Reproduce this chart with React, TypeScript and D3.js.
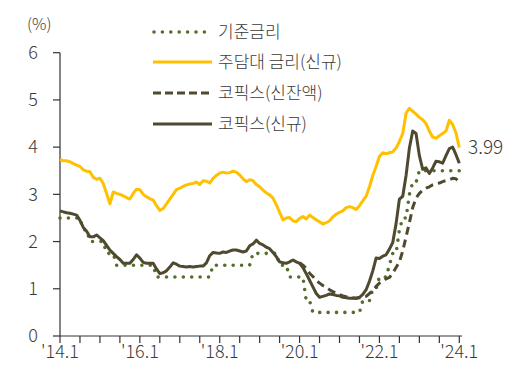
import React from 'react';
import * as d3 from 'd3';

// Monthly data, Jan 2014 (index 0) .. Jan 2024 (index 120)
const baseRate: number[] = [
  2.5, 2.5, 2.5, 2.5, 2.5, 2.5, 2.5, 2.25, 2.25, 2, 2, 2,
  2, 2, 1.75, 1.75, 1.75, 1.5, 1.5, 1.5, 1.5, 1.5, 1.5, 1.5,
  1.5, 1.5, 1.5, 1.5, 1.5, 1.25, 1.25, 1.25, 1.25, 1.25, 1.25, 1.25,
  1.25, 1.25, 1.25, 1.25, 1.25, 1.25, 1.25, 1.25, 1.25, 1.25, 1.5, 1.5,
  1.5, 1.5, 1.5, 1.5, 1.5, 1.5, 1.5, 1.5, 1.5, 1.5, 1.75, 1.75,
  1.75, 1.75, 1.75, 1.75, 1.75, 1.75, 1.5, 1.5, 1.5, 1.25, 1.25, 1.25,
  1.25, 1.25, 0.75, 0.75, 0.5, 0.5, 0.5, 0.5, 0.5, 0.5, 0.5, 0.5,
  0.5, 0.5, 0.5, 0.5, 0.5, 0.5, 0.5, 0.75, 0.75, 0.75, 1, 1,
  1.25, 1.25, 1.25, 1.5, 1.75, 1.75, 2.25, 2.5, 2.5, 3, 3.25, 3.25,
  3.5, 3.5, 3.5, 3.5, 3.5, 3.5, 3.5, 3.5, 3.5, 3.5, 3.5, 3.5,
  3.5,
];

const mortgageRate: number[] = [
  3.74, 3.71, 3.71, 3.69, 3.65, 3.62, 3.59, 3.52, 3.49, 3.48, 3.36, 3.32,
  3.34, 3.23, 3.02, 2.8, 3.05, 3.02, 3.0, 2.97, 2.93, 2.9, 3.02, 3.11,
  3.1, 3.0, 2.95, 2.91, 2.88, 2.76, 2.66, 2.7, 2.8, 2.9, 3.0, 3.1,
  3.13, 3.17, 3.2, 3.22, 3.23, 3.26, 3.21, 3.29, 3.28, 3.24, 3.34, 3.4,
  3.45, 3.47, 3.45, 3.46, 3.49, 3.47, 3.41, 3.33, 3.27, 3.31, 3.29, 3.21,
  3.16, 3.09, 3.03, 2.99, 2.92, 2.78, 2.62, 2.46, 2.5, 2.51, 2.44, 2.42,
  2.49, 2.53, 2.48, 2.56, 2.51, 2.46, 2.42, 2.37, 2.4, 2.44, 2.52, 2.58,
  2.62, 2.65, 2.72, 2.74, 2.72, 2.68, 2.76, 2.86, 2.96, 3.16, 3.4, 3.59,
  3.8, 3.88, 3.86, 3.88, 3.9, 3.98, 4.12, 4.29, 4.72, 4.82, 4.76, 4.7,
  4.63, 4.58, 4.5, 4.34, 4.21, 4.19, 4.24, 4.29, 4.34, 4.57, 4.48, 4.3,
  3.99,
];

const cofixBalance: (number | null)[] = [
  null, null, null, null, null, null, null, null, null, null, null, null,
  null, null, null, null, null, null, null, null, null, null, null, null,
  null, null, null, null, null, null, null, null, null, null, null, null,
  null, null, null, null, null, null, null, null, null, null, null, null,
  null, null, null, null, null, null, null, null, null, null, null, null,
  null, null, null, null, null, null, null, null, null, null, null, null,
  1.55, 1.5, 1.43, 1.33, 1.26, 1.18, 1.12, 1.07, 1.03, 0.98, 0.94, 0.91,
  0.88, 0.85, 0.83, 0.82, 0.81, 0.8, 0.81, 0.82, 0.84, 0.9, 0.97, 1.05,
  1.12, 1.16, 1.21, 1.24, 1.33, 1.45, 1.57, 1.8, 2.1, 2.4, 2.72, 2.92,
  3.02, 3.09, 3.13, 3.16, 3.2, 3.22, 3.24, 3.27, 3.29, 3.31, 3.34, 3.33,
  3.27,
];

const cofixNew: number[] = [
  2.65, 2.63, 2.61, 2.6, 2.58, 2.56, 2.45, 2.3, 2.22, 2.1, 2.1, 2.14,
  2.08, 2.02, 1.92, 1.82, 1.75, 1.68, 1.62, 1.54, 1.54, 1.54, 1.62, 1.72,
  1.65, 1.56, 1.54, 1.54, 1.54, 1.42, 1.32, 1.34, 1.38, 1.46, 1.55, 1.52,
  1.48, 1.47, 1.46, 1.47, 1.46, 1.47, 1.48, 1.48, 1.55, 1.7, 1.77, 1.76,
  1.75, 1.78, 1.77, 1.8, 1.82, 1.82, 1.8, 1.78, 1.8, 1.91, 1.95, 2.03,
  1.96, 1.93, 1.88, 1.85, 1.77, 1.68, 1.57, 1.55, 1.54, 1.57, 1.61, 1.57,
  1.54, 1.45, 1.32, 1.18, 1.04, 0.9, 0.82, 0.84, 0.86, 0.89, 0.88, 0.86,
  0.85, 0.82, 0.81, 0.8, 0.8, 0.8, 0.82, 0.88, 0.98, 1.16, 1.38, 1.65,
  1.64, 1.69, 1.72, 1.84, 1.98, 2.38, 2.9, 2.96, 3.4, 3.98, 4.34, 4.29,
  3.82, 3.53, 3.56, 3.44, 3.56, 3.7, 3.69, 3.66, 3.82, 3.97, 4.0, 3.84,
  3.66,
];

const yTicks: number[] = [0, 1, 2, 3, 4, 5, 6];
const xLabelIdx: number[] = [0, 24, 48, 72, 96, 120];
const xLabels: string[] = ["'14.1", "'16.1", "'18.1", "'20.1", "'22.1", "'24.1"];
const xTickIdx: number[] = [0, 6, 12, 18, 24, 30, 36, 42, 48, 54, 60, 66, 72, 78, 84, 90, 96, 102, 108, 114, 120];
const legendNames: string[] = ['기준금리', '주담대 금리(신규)', '코픽스(신잔액)', '코픽스(신규)'];
const endLabel = '3.99';

const FONT = "'Noto Sans CJK KR', 'Noto Sans', sans-serif";
const YELLOW = '#FFC000';
const DARK = '#4f4a2f';
const GREEN = '#546e2c';
const TEXT = '#3a3a3a';

export default function App() {
  const W = 525, H = 380;
  const x = d3.scaleLinear().domain([0, 120]).range([60, 459.3]);
  const y = d3.scaleLinear().domain([0, 6]).range([336, 52.7]);

  const line = d3
    .line<number | null>()
    .defined((d) => d !== null)
    .x((_, i) => x(i))
    .y((d) => y(d as number));

  const series = [
    { data: baseRate, stroke: GREEN, width: 3.6, dash: '0 8.4', cap: 'round' as const },
    { data: mortgageRate, stroke: YELLOW, width: 3, dash: undefined, cap: 'butt' as const },
    { data: cofixBalance, stroke: DARK, width: 3, dash: '8 5', cap: 'butt' as const },
    { data: cofixNew, stroke: DARK, width: 3, dash: undefined, cap: 'butt' as const },
  ];

  const drawOrder = [1, 0, 2, 3];
  const legendY = [32, 62, 93, 124];

  return (
    <svg width={W} height={H} style={{ position: 'absolute', left: 0, top: 0, background: '#fff' }} fontFamily={FONT} fontWeight={300}>
      {/* axes */}
      <line x1={60} x2={60} y1={y(6)} y2={y(0)} stroke="#333" strokeWidth={1.2} />
      <line x1={60} x2={462} y1={y(0)} y2={y(0)} stroke="#333" strokeWidth={1.2} />
      {yTicks.map((t) => (
        <g key={'y' + t}>
          <line x1={53} x2={60} y1={y(t)} y2={y(t)} stroke="#333" strokeWidth={1.2} />
          <text x={38} y={y(t)} dy="0.35em" textAnchor="end" fontSize={18} fill={TEXT}>
            {t}
          </text>
        </g>
      ))}
      {xTickIdx.map((t) => (
        <line key={'xt' + t} x1={x(t)} x2={x(t)} y1={y(0)} y2={y(0) + 7} stroke="#333" strokeWidth={1.2} />
      ))}
      {xLabelIdx.map((t, i) => (
        <text key={'xl' + t} x={x(t)} y={358} textAnchor="middle" fontSize={18} fill={TEXT}>
          {xLabels[i]}
        </text>
      ))}
      <text x={27} y={30} fontSize={16} fill={TEXT}>(%)</text>

      {/* series */}
      {drawOrder.map((k) => {
        const s = series[k];
        return (
          <path
            key={'s' + k}
            d={line(s.data as (number | null)[]) || ''}
            fill="none"
            stroke={s.stroke}
            strokeWidth={s.width}
            strokeDasharray={s.dash}
            strokeLinecap={s.cap}
            strokeLinejoin="round"
          />
        );
      })}

      <text x={468} y={y(mortgageRate[120])} dy="0.35em" fontSize={19} fill={TEXT}>
        {endLabel}
      </text>

      {/* legend */}
      {legendNames.map((name, i) => {
        const s = series[i];
        return (
          <g key={'lg' + i}>
            <line
              x1={i === 0 ? 154 : 153}
              x2={i === 0 ? 208 : 212}
              y1={legendY[i]}
              y2={legendY[i]}
              stroke={s.stroke}
              strokeWidth={s.width}
              strokeDasharray={i === 2 ? '8 4' : s.dash}
              strokeLinecap={s.cap}
            />
            <text x={218} y={legendY[i]} dy="0.35em" fontSize={17} fill={TEXT}>
              {name}
            </text>
          </g>
        );
      })}
    </svg>
  );
}
